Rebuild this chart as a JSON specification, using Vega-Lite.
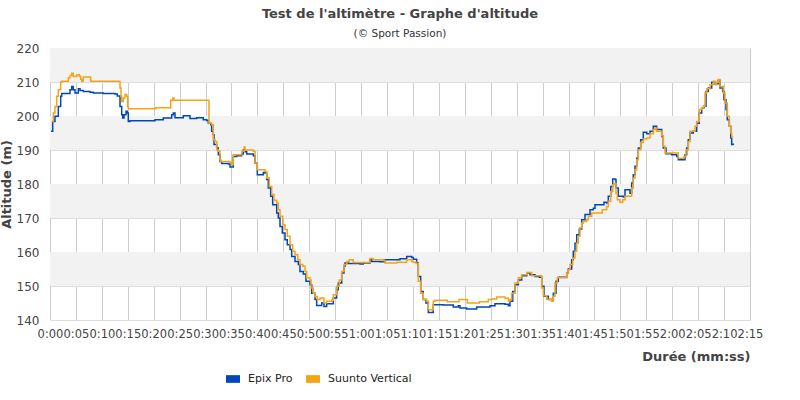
{
  "$schema": "https://vega.github.io/schema/vega-lite/v6.json",
  "width": 700,
  "height": 272,
  "autosize": {"type": "none"},
  "padding": {"left": 50, "top": 48, "right": 50, "bottom": 80},
  "background": "white",
  "config": {
    "view": {"stroke": null},
    "font": "DejaVu Sans",
    "axisY": {
      "title": "Altitude (m)",
      "titleFontSize": 13,
      "titleFontWeight": "bold",
      "titleColor": "#444444",
      "titlePadding": 3,
      "values": [140,150,160,170,180,190,200,210,220],
      "labelOverlap": false,
      "labelFontSize": 12,
      "labelColor": "#444444",
      "labelPadding": 11,
      "ticks": false,
      "domain": false,
      "grid": true,
      "gridColor": "#dddddd",
      "gridWidth": 1
    }
  },
  "title": {
    "text": "Test de l'altimètre - Graphe d'altitude",
    "subtitle": "(© Sport Passion)",
    "anchor": "middle",
    "fontSize": 13,
    "fontWeight": "bold",
    "color": "#444444",
    "subtitleFontSize": 10.5,
    "subtitleColor": "#333333",
    "subtitlePadding": 8,
    "offset": 3
  },
  "layer": [
    {
      "data": {"values": [
        {"y1": 210, "y2": 220}, {"y1": 190, "y2": 200}, {"y1": 170, "y2": 180}, {"y1": 150, "y2": 160}
      ]},
      "mark": {"type": "rect", "color": "#f2f2f2"},
      "encoding": {
        "y": {"field": "y1", "type": "quantitative", "title": "Altitude (m)", "scale": {"domain": [140, 220], "nice": false, "zero": false},
          "axis": {"title": "Altitude (m)", "values": [140,150,160,170,180,190,200,210,220]}},
        "y2": {"field": "y2"}
      }
    },
    {
      "data": {"values": [
        {"s":"Epix Pro","t":0.19,"a":195.5},{"s":"Epix Pro","t":0.52,"a":198.4},{"s":"Epix Pro","t":0.96,"a":199.9},{"s":"Epix Pro","t":1.6,"a":202.8},{"s":"Epix Pro","t":2.06,"a":205.8},{"s":"Epix Pro","t":2.26,"a":206.6},{"s":"Epix Pro","t":3.72,"a":206.6},{"s":"Epix Pro","t":3.86,"a":207.7},{"s":"Epix Pro","t":4.19,"a":208.7},{"s":"Epix Pro","t":4.49,"a":207.7},{"s":"Epix Pro","t":4.82,"a":206.8},{"s":"Epix Pro","t":5.46,"a":208},{"s":"Epix Pro","t":5.79,"a":207.5},{"s":"Epix Pro","t":6.42,"a":207.2},{"s":"Epix Pro","t":7.71,"a":207},{"s":"Epix Pro","t":8.35,"a":206.8},{"s":"Epix Pro","t":10.28,"a":206.6},{"s":"Epix Pro","t":12.54,"a":206.5},{"s":"Epix Pro","t":12.98,"a":205.9},{"s":"Epix Pro","t":13.5,"a":202.8},{"s":"Epix Pro","t":13.83,"a":200.4},{"s":"Epix Pro","t":14.02,"a":199.4},{"s":"Epix Pro","t":14.27,"a":200.4},{"s":"Epix Pro","t":14.66,"a":201.4},{"s":"Epix Pro","t":14.91,"a":200.9},{"s":"Epix Pro","t":15.1,"a":198.4},{"s":"Epix Pro","t":15.43,"a":198.6},{"s":"Epix Pro","t":20.25,"a":198.9},{"s":"Epix Pro","t":21.85,"a":199.4},{"s":"Epix Pro","t":23.47,"a":200.4},{"s":"Epix Pro","t":23.78,"a":200.9},{"s":"Epix Pro","t":24.11,"a":199.5},{"s":"Epix Pro","t":25.71,"a":200.1},{"s":"Epix Pro","t":27.0,"a":199.3},{"s":"Epix Pro","t":28.29,"a":199.5},{"s":"Epix Pro","t":29.56,"a":198.9},{"s":"Epix Pro","t":30.22,"a":198.7},{"s":"Epix Pro","t":30.53,"a":197.9},{"s":"Epix Pro","t":30.99,"a":197.4},{"s":"Epix Pro","t":31.18,"a":195.5},{"s":"Epix Pro","t":31.49,"a":194.5},{"s":"Epix Pro","t":31.63,"a":191.6},{"s":"Epix Pro","t":32.15,"a":190.6},{"s":"Epix Pro","t":32.46,"a":188.6},{"s":"Epix Pro","t":32.79,"a":186.6},{"s":"Epix Pro","t":33.11,"a":186},{"s":"Epix Pro","t":34.39,"a":185.9},{"s":"Epix Pro","t":34.71,"a":185},{"s":"Epix Pro","t":35.04,"a":185},{"s":"Epix Pro","t":35.35,"a":188.1},{"s":"Epix Pro","t":36.0,"a":188.3},{"s":"Epix Pro","t":36.64,"a":188.3},{"s":"Epix Pro","t":36.97,"a":188.8},{"s":"Epix Pro","t":37.28,"a":190.1},{"s":"Epix Pro","t":37.61,"a":189.5},{"s":"Epix Pro","t":37.94,"a":188.8},{"s":"Epix Pro","t":39.21,"a":188.3},{"s":"Epix Pro","t":39.54,"a":186.2},{"s":"Epix Pro","t":39.98,"a":182.7},{"s":"Epix Pro","t":41.14,"a":183.4},{"s":"Epix Pro","t":41.46,"a":183.2},{"s":"Epix Pro","t":41.79,"a":181.3},{"s":"Epix Pro","t":42.1,"a":178.8},{"s":"Epix Pro","t":42.56,"a":176.4},{"s":"Epix Pro","t":42.95,"a":173.9},{"s":"Epix Pro","t":43.72,"a":171.5},{"s":"Epix Pro","t":44.03,"a":170},{"s":"Epix Pro","t":44.36,"a":167.5},{"s":"Epix Pro","t":44.8,"a":165.6},{"s":"Epix Pro","t":45.32,"a":163.6},{"s":"Epix Pro","t":45.76,"a":162.1},{"s":"Epix Pro","t":46.29,"a":160.7},{"s":"Epix Pro","t":46.61,"a":158.7},{"s":"Epix Pro","t":47.25,"a":157.2},{"s":"Epix Pro","t":47.89,"a":156.3},{"s":"Epix Pro","t":48.21,"a":154.3},{"s":"Epix Pro","t":48.85,"a":153.5},{"s":"Epix Pro","t":49.37,"a":151.4},{"s":"Epix Pro","t":50.14,"a":150.4},{"s":"Epix Pro","t":50.47,"a":147.9},{"s":"Epix Pro","t":51.11,"a":146},{"s":"Epix Pro","t":51.43,"a":144.3},{"s":"Epix Pro","t":52.07,"a":144.3},{"s":"Epix Pro","t":52.4,"a":145},{"s":"Epix Pro","t":52.84,"a":144},{"s":"Epix Pro","t":53.36,"a":144.8},{"s":"Epix Pro","t":54.33,"a":144.8},{"s":"Epix Pro","t":54.64,"a":146.5},{"s":"Epix Pro","t":55.29,"a":148.9},{"s":"Epix Pro","t":55.6,"a":150.9},{"s":"Epix Pro","t":56.26,"a":153.8},{"s":"Epix Pro","t":56.7,"a":155.8},{"s":"Epix Pro","t":56.89,"a":156.8},{"s":"Epix Pro","t":57.53,"a":156.6},{"s":"Epix Pro","t":59.79,"a":156.5},{"s":"Epix Pro","t":60.42,"a":156.8},{"s":"Epix Pro","t":61.71,"a":157.7},{"s":"Epix Pro","t":62.04,"a":157.2},{"s":"Epix Pro","t":63.64,"a":157.1},{"s":"Epix Pro","t":64.61,"a":157.7},{"s":"Epix Pro","t":67.5,"a":158},{"s":"Epix Pro","t":68.79,"a":158.7},{"s":"Epix Pro","t":69.76,"a":158.4},{"s":"Epix Pro","t":70.07,"a":157.9},{"s":"Epix Pro","t":70.72,"a":156.8},{"s":"Epix Pro","t":71.03,"a":152.8},{"s":"Epix Pro","t":71.49,"a":148.4},{"s":"Epix Pro","t":71.99,"a":146},{"s":"Epix Pro","t":72.51,"a":145},{"s":"Epix Pro","t":72.96,"a":142.2},{"s":"Epix Pro","t":73.81,"a":142.2},{"s":"Epix Pro","t":73.92,"a":144.5},{"s":"Epix Pro","t":74.58,"a":144.5},{"s":"Epix Pro","t":75.85,"a":144.4},{"s":"Epix Pro","t":77.78,"a":143.8},{"s":"Epix Pro","t":78.74,"a":144.2},{"s":"Epix Pro","t":79.07,"a":143.5},{"s":"Epix Pro","t":80.36,"a":143.2},{"s":"Epix Pro","t":81.33,"a":143.2},{"s":"Epix Pro","t":82.29,"a":143.8},{"s":"Epix Pro","t":84.22,"a":143.8},{"s":"Epix Pro","t":84.86,"a":144.2},{"s":"Epix Pro","t":85.82,"a":144.8},{"s":"Epix Pro","t":87.75,"a":144.6},{"s":"Epix Pro","t":88.39,"a":144.2},{"s":"Epix Pro","t":88.71,"a":145.5},{"s":"Epix Pro","t":89.24,"a":148.4},{"s":"Epix Pro","t":89.68,"a":150.4},{"s":"Epix Pro","t":90.32,"a":151.8},{"s":"Epix Pro","t":90.97,"a":153},{"s":"Epix Pro","t":91.94,"a":153.8},{"s":"Epix Pro","t":92.57,"a":153.3},{"s":"Epix Pro","t":93.54,"a":152.8},{"s":"Epix Pro","t":94.37,"a":152.6},{"s":"Epix Pro","t":94.83,"a":149.9},{"s":"Epix Pro","t":95.27,"a":147},{"s":"Epix Pro","t":96.1,"a":146},{"s":"Epix Pro","t":96.76,"a":145.5},{"s":"Epix Pro","t":97.07,"a":147.9},{"s":"Epix Pro","t":97.59,"a":151.4},{"s":"Epix Pro","t":98.03,"a":152.6},{"s":"Epix Pro","t":99.32,"a":152.6},{"s":"Epix Pro","t":99.65,"a":153.8},{"s":"Epix Pro","t":99.96,"a":155},{"s":"Epix Pro","t":100.61,"a":157.7},{"s":"Epix Pro","t":100.92,"a":160.2},{"s":"Epix Pro","t":101.25,"a":162.6},{"s":"Epix Pro","t":101.58,"a":165.1},{"s":"Epix Pro","t":102.08,"a":166.8},{"s":"Epix Pro","t":102.54,"a":169.5},{"s":"Epix Pro","t":103.18,"a":171},{"s":"Epix Pro","t":104.14,"a":172.4},{"s":"Epix Pro","t":104.78,"a":172.9},{"s":"Epix Pro","t":105.11,"a":173.9},{"s":"Epix Pro","t":106.71,"a":173.9},{"s":"Epix Pro","t":106.84,"a":174.6},{"s":"Epix Pro","t":107.36,"a":174.4},{"s":"Epix Pro","t":107.67,"a":176.4},{"s":"Epix Pro","t":108.14,"a":179.3},{"s":"Epix Pro","t":108.52,"a":181.5},{"s":"Epix Pro","t":108.97,"a":181.3},{"s":"Epix Pro","t":109.16,"a":178.8},{"s":"Epix Pro","t":109.6,"a":176.4},{"s":"Epix Pro","t":110.57,"a":176.2},{"s":"Epix Pro","t":110.89,"a":178.3},{"s":"Epix Pro","t":111.53,"a":178.3},{"s":"Epix Pro","t":111.86,"a":177.3},{"s":"Epix Pro","t":112.18,"a":180.3},{"s":"Epix Pro","t":112.49,"a":182.7},{"s":"Epix Pro","t":112.82,"a":185.2},{"s":"Epix Pro","t":113.15,"a":187.6},{"s":"Epix Pro","t":113.46,"a":190.6},{"s":"Epix Pro","t":113.92,"a":193},{"s":"Epix Pro","t":114.42,"a":195.2},{"s":"Epix Pro","t":115.08,"a":194.8},{"s":"Epix Pro","t":115.71,"a":195.5},{"s":"Epix Pro","t":116.35,"a":197},{"s":"Epix Pro","t":117.0,"a":196},{"s":"Epix Pro","t":117.97,"a":194},{"s":"Epix Pro","t":118.28,"a":190.6},{"s":"Epix Pro","t":118.8,"a":188.9},{"s":"Epix Pro","t":119.9,"a":188.6},{"s":"Epix Pro","t":120.87,"a":188.1},{"s":"Epix Pro","t":121.17,"a":187.1},{"s":"Epix Pro","t":122.14,"a":187.1},{"s":"Epix Pro","t":122.46,"a":188.6},{"s":"Epix Pro","t":122.79,"a":190.6},{"s":"Epix Pro","t":123.1,"a":193},{"s":"Epix Pro","t":123.43,"a":195},{"s":"Epix Pro","t":124.06,"a":195.5},{"s":"Epix Pro","t":124.72,"a":197.9},{"s":"Epix Pro","t":125.22,"a":200.9},{"s":"Epix Pro","t":125.68,"a":202.4},{"s":"Epix Pro","t":126.13,"a":202.9},{"s":"Epix Pro","t":126.52,"a":207.2},{"s":"Epix Pro","t":126.96,"a":208.2},{"s":"Epix Pro","t":127.61,"a":209.9},{"s":"Epix Pro","t":128.25,"a":209.5},{"s":"Epix Pro","t":128.88,"a":210.5},{"s":"Epix Pro","t":129.21,"a":208.2},{"s":"Epix Pro","t":129.73,"a":207.2},{"s":"Epix Pro","t":129.98,"a":204.8},{"s":"Epix Pro","t":130.37,"a":201.9},{"s":"Epix Pro","t":130.62,"a":198.9},{"s":"Epix Pro","t":131.01,"a":197},{"s":"Epix Pro","t":131.28,"a":193.5},{"s":"Epix Pro","t":131.47,"a":191.6},{"s":"Epix Pro","t":131.78,"a":191.9},
        {"s":"Suunto Vertical","t":0.33,"a":198.4},{"s":"Suunto Vertical","t":0.64,"a":200.9},{"s":"Suunto Vertical","t":0.96,"a":202.8},{"s":"Suunto Vertical","t":1.29,"a":205.8},{"s":"Suunto Vertical","t":1.6,"a":207.7},{"s":"Suunto Vertical","t":2.06,"a":209.9},{"s":"Suunto Vertical","t":2.26,"a":210.2},{"s":"Suunto Vertical","t":3.22,"a":210.2},{"s":"Suunto Vertical","t":3.53,"a":211.2},{"s":"Suunto Vertical","t":3.86,"a":211.9},{"s":"Suunto Vertical","t":4.19,"a":212.6},{"s":"Suunto Vertical","t":4.49,"a":211.6},{"s":"Suunto Vertical","t":5.15,"a":212.1},{"s":"Suunto Vertical","t":5.65,"a":211.7},{"s":"Suunto Vertical","t":5.92,"a":210.8},{"s":"Suunto Vertical","t":6.11,"a":210.2},{"s":"Suunto Vertical","t":6.42,"a":211.5},{"s":"Suunto Vertical","t":7.71,"a":211.5},{"s":"Suunto Vertical","t":7.85,"a":210.2},{"s":"Suunto Vertical","t":13.31,"a":210.2},{"s":"Suunto Vertical","t":13.5,"a":208.2},{"s":"Suunto Vertical","t":13.69,"a":205.8},{"s":"Suunto Vertical","t":13.83,"a":204.3},{"s":"Suunto Vertical","t":14.14,"a":205.3},{"s":"Suunto Vertical","t":14.46,"a":206.3},{"s":"Suunto Vertical","t":14.79,"a":205.8},{"s":"Suunto Vertical","t":14.98,"a":202.8},{"s":"Suunto Vertical","t":15.1,"a":202.1},{"s":"Suunto Vertical","t":20.25,"a":202.1},{"s":"Suunto Vertical","t":20.39,"a":202.4},{"s":"Suunto Vertical","t":23.14,"a":202.4},{"s":"Suunto Vertical","t":23.28,"a":204.6},{"s":"Suunto Vertical","t":23.66,"a":205.3},{"s":"Suunto Vertical","t":23.91,"a":204.6},{"s":"Suunto Vertical","t":30.53,"a":204.6},{"s":"Suunto Vertical","t":30.66,"a":197.9},{"s":"Suunto Vertical","t":31.18,"a":197.4},{"s":"Suunto Vertical","t":31.49,"a":193},{"s":"Suunto Vertical","t":31.82,"a":192.5},{"s":"Suunto Vertical","t":32.15,"a":190.1},{"s":"Suunto Vertical","t":32.46,"a":189.6},{"s":"Suunto Vertical","t":32.79,"a":187.1},{"s":"Suunto Vertical","t":32.92,"a":186.6},{"s":"Suunto Vertical","t":34.71,"a":186.4},{"s":"Suunto Vertical","t":35.04,"a":185.7},{"s":"Suunto Vertical","t":35.35,"a":188.6},{"s":"Suunto Vertical","t":36.64,"a":188.6},{"s":"Suunto Vertical","t":36.97,"a":189.6},{"s":"Suunto Vertical","t":37.42,"a":190.9},{"s":"Suunto Vertical","t":37.61,"a":190},{"s":"Suunto Vertical","t":39.21,"a":189.6},{"s":"Suunto Vertical","t":39.54,"a":186.2},{"s":"Suunto Vertical","t":39.98,"a":184.2},{"s":"Suunto Vertical","t":41.14,"a":184.2},{"s":"Suunto Vertical","t":41.46,"a":183.7},{"s":"Suunto Vertical","t":41.79,"a":181.8},{"s":"Suunto Vertical","t":42.29,"a":179.3},{"s":"Suunto Vertical","t":42.76,"a":176.9},{"s":"Suunto Vertical","t":43.2,"a":175.2},{"s":"Suunto Vertical","t":43.72,"a":174.4},{"s":"Suunto Vertical","t":44.03,"a":172.4},{"s":"Suunto Vertical","t":44.36,"a":170.5},{"s":"Suunto Vertical","t":44.88,"a":168},{"s":"Suunto Vertical","t":45.32,"a":166.6},{"s":"Suunto Vertical","t":45.76,"a":164.6},{"s":"Suunto Vertical","t":46.29,"a":162.1},{"s":"Suunto Vertical","t":46.81,"a":160.2},{"s":"Suunto Vertical","t":47.25,"a":159.2},{"s":"Suunto Vertical","t":47.77,"a":157.7},{"s":"Suunto Vertical","t":48.21,"a":156.3},{"s":"Suunto Vertical","t":48.74,"a":155.8},{"s":"Suunto Vertical","t":49.18,"a":154.3},{"s":"Suunto Vertical","t":49.51,"a":152.4},{"s":"Suunto Vertical","t":50.14,"a":151.8},{"s":"Suunto Vertical","t":50.34,"a":149.4},{"s":"Suunto Vertical","t":50.78,"a":147.9},{"s":"Suunto Vertical","t":51.11,"a":146.9},{"s":"Suunto Vertical","t":51.55,"a":146},{"s":"Suunto Vertical","t":52.07,"a":146.5},{"s":"Suunto Vertical","t":52.59,"a":146.5},{"s":"Suunto Vertical","t":52.84,"a":145},{"s":"Suunto Vertical","t":53.36,"a":145.5},{"s":"Suunto Vertical","t":54.33,"a":145.8},{"s":"Suunto Vertical","t":54.64,"a":147.4},{"s":"Suunto Vertical","t":55.29,"a":149.9},{"s":"Suunto Vertical","t":55.79,"a":151.8},{"s":"Suunto Vertical","t":56.26,"a":154.3},{"s":"Suunto Vertical","t":56.7,"a":156.3},{"s":"Suunto Vertical","t":57.22,"a":157.2},{"s":"Suunto Vertical","t":57.72,"a":157.7},{"s":"Suunto Vertical","t":58.49,"a":156.9},{"s":"Suunto Vertical","t":61.08,"a":156.9},{"s":"Suunto Vertical","t":61.71,"a":158.1},{"s":"Suunto Vertical","t":62.35,"a":157.7},{"s":"Suunto Vertical","t":64.28,"a":157.5},{"s":"Suunto Vertical","t":64.61,"a":156.8},{"s":"Suunto Vertical","t":66.86,"a":157.0},{"s":"Suunto Vertical","t":68.79,"a":157.7},{"s":"Suunto Vertical","t":69.76,"a":157.2},{"s":"Suunto Vertical","t":70.07,"a":157},{"s":"Suunto Vertical","t":70.59,"a":156.6},{"s":"Suunto Vertical","t":71.03,"a":151.4},{"s":"Suunto Vertical","t":71.49,"a":147.9},{"s":"Suunto Vertical","t":71.99,"a":146},{"s":"Suunto Vertical","t":72.65,"a":145.5},{"s":"Suunto Vertical","t":72.96,"a":143},{"s":"Suunto Vertical","t":73.73,"a":143},{"s":"Suunto Vertical","t":73.92,"a":145.5},{"s":"Suunto Vertical","t":74.25,"a":145.8},{"s":"Suunto Vertical","t":76.51,"a":145.8},{"s":"Suunto Vertical","t":76.62,"a":145.4},{"s":"Suunto Vertical","t":78.74,"a":145.4},{"s":"Suunto Vertical","t":78.88,"a":146},{"s":"Suunto Vertical","t":80.36,"a":146},{"s":"Suunto Vertical","t":80.48,"a":145},{"s":"Suunto Vertical","t":82.6,"a":145},{"s":"Suunto Vertical","t":82.79,"a":145.4},{"s":"Suunto Vertical","t":84.22,"a":145.4},{"s":"Suunto Vertical","t":84.53,"a":146},{"s":"Suunto Vertical","t":85.18,"a":146.2},{"s":"Suunto Vertical","t":86.15,"a":146.8},{"s":"Suunto Vertical","t":87.75,"a":146.4},{"s":"Suunto Vertical","t":88.39,"a":145.6},{"s":"Suunto Vertical","t":88.71,"a":146},{"s":"Suunto Vertical","t":89.04,"a":147.9},{"s":"Suunto Vertical","t":89.68,"a":150.9},{"s":"Suunto Vertical","t":90.32,"a":152.4},{"s":"Suunto Vertical","t":90.97,"a":153.3},{"s":"Suunto Vertical","t":91.94,"a":154},{"s":"Suunto Vertical","t":92.9,"a":153},{"s":"Suunto Vertical","t":94.37,"a":153},{"s":"Suunto Vertical","t":94.83,"a":149.4},{"s":"Suunto Vertical","t":95.14,"a":147.1},{"s":"Suunto Vertical","t":95.79,"a":146.1},{"s":"Suunto Vertical","t":96.76,"a":145.5},{"s":"Suunto Vertical","t":97.07,"a":147},{"s":"Suunto Vertical","t":97.39,"a":150.9},{"s":"Suunto Vertical","t":97.84,"a":152.4},{"s":"Suunto Vertical","t":99.32,"a":152.4},{"s":"Suunto Vertical","t":99.65,"a":153.8},{"s":"Suunto Vertical","t":99.96,"a":154.8},{"s":"Suunto Vertical","t":100.29,"a":156.3},{"s":"Suunto Vertical","t":100.81,"a":158.2},{"s":"Suunto Vertical","t":101.25,"a":160.2},{"s":"Suunto Vertical","t":101.58,"a":162.6},{"s":"Suunto Vertical","t":101.89,"a":164.6},{"s":"Suunto Vertical","t":102.21,"a":167.1},{"s":"Suunto Vertical","t":102.54,"a":168.5},{"s":"Suunto Vertical","t":102.86,"a":169},{"s":"Suunto Vertical","t":103.51,"a":169.5},{"s":"Suunto Vertical","t":103.82,"a":170.5},{"s":"Suunto Vertical","t":104.47,"a":171.5},{"s":"Suunto Vertical","t":106.4,"a":171.5},{"s":"Suunto Vertical","t":106.51,"a":172.4},{"s":"Suunto Vertical","t":107.23,"a":172.4},{"s":"Suunto Vertical","t":107.36,"a":173.4},{"s":"Suunto Vertical","t":107.67,"a":174.9},{"s":"Suunto Vertical","t":108.14,"a":177.8},{"s":"Suunto Vertical","t":108.52,"a":179.8},{"s":"Suunto Vertical","t":108.77,"a":180.1},{"s":"Suunto Vertical","t":109.16,"a":177.3},{"s":"Suunto Vertical","t":109.41,"a":175.4},{"s":"Suunto Vertical","t":109.93,"a":174.6},{"s":"Suunto Vertical","t":110.45,"a":175.4},{"s":"Suunto Vertical","t":110.89,"a":176.4},{"s":"Suunto Vertical","t":111.86,"a":176.4},{"s":"Suunto Vertical","t":112.18,"a":178.8},{"s":"Suunto Vertical","t":112.49,"a":181.8},{"s":"Suunto Vertical","t":112.82,"a":184.2},{"s":"Suunto Vertical","t":113.15,"a":187.1},{"s":"Suunto Vertical","t":113.46,"a":190.1},{"s":"Suunto Vertical","t":113.92,"a":192.2},{"s":"Suunto Vertical","t":114.42,"a":193.2},{"s":"Suunto Vertical","t":115.08,"a":193.5},{"s":"Suunto Vertical","t":115.71,"a":194.8},{"s":"Suunto Vertical","t":116.35,"a":196},{"s":"Suunto Vertical","t":116.68,"a":196.5},{"s":"Suunto Vertical","t":117.0,"a":195.5},{"s":"Suunto Vertical","t":117.97,"a":194.2},{"s":"Suunto Vertical","t":118.28,"a":191.1},{"s":"Suunto Vertical","t":118.61,"a":189.1},{"s":"Suunto Vertical","t":120.98,"a":189.1},{"s":"Suunto Vertical","t":121.17,"a":187.6},{"s":"Suunto Vertical","t":122.02,"a":187.6},{"s":"Suunto Vertical","t":122.27,"a":188.1},{"s":"Suunto Vertical","t":122.66,"a":190.1},{"s":"Suunto Vertical","t":123.1,"a":192.5},{"s":"Suunto Vertical","t":123.43,"a":195.5},{"s":"Suunto Vertical","t":124.06,"a":195.5},{"s":"Suunto Vertical","t":124.39,"a":197},{"s":"Suunto Vertical","t":124.72,"a":198.4},{"s":"Suunto Vertical","t":125.22,"a":201.9},{"s":"Suunto Vertical","t":125.68,"a":202.4},{"s":"Suunto Vertical","t":125.99,"a":202.9},{"s":"Suunto Vertical","t":126.32,"a":206.8},{"s":"Suunto Vertical","t":126.65,"a":208},{"s":"Suunto Vertical","t":127.29,"a":209.2},{"s":"Suunto Vertical","t":127.92,"a":210.2},{"s":"Suunto Vertical","t":128.25,"a":209.2},{"s":"Suunto Vertical","t":128.58,"a":209.9},{"s":"Suunto Vertical","t":128.88,"a":210.7},{"s":"Suunto Vertical","t":129.21,"a":208.7},{"s":"Suunto Vertical","t":129.85,"a":206.8},{"s":"Suunto Vertical","t":130.18,"a":203.8},{"s":"Suunto Vertical","t":130.62,"a":199.9},{"s":"Suunto Vertical","t":131.01,"a":197},{"s":"Suunto Vertical","t":131.28,"a":195},{"s":"Suunto Vertical","t":131.47,"a":193.8},{"s":"Suunto Vertical","t":131.78,"a":193.8}
      ]},
      "mark": {"type": "line", "interpolate": "step-after", "strokeWidth": 1.5},
      "encoding": {
        "x": {
          "field": "t", "type": "quantitative",
          "scale": {"domain": [0, 135], "nice": false, "zero": false},
          "axis": {
            "title": "Durée (mm:ss)",
            "titleAnchor": "end",
            "titleAlign": "right",
            "titleFontSize": 13,
            "titleFontWeight": "bold",
            "titleColor": "#444444",
            "titlePadding": 11,
            "values": [0,5,10,15,20,25,30,35,40,45,50,55,60,65,70,75,80,85,90,95,100,105,110,115,120,125,130,135],
            "labelExpr": "floor(datum.value/60) + ':' + (datum.value % 60 < 10 ? '0' : '') + (datum.value % 60)",
            "labelOverlap": false,
            "labelFlush": false,
            "labelFontSize": 11.5,
            "labelColor": "#444444",
            "labelPadding": 8,
            "ticks": false,
            "domain": false,
            "grid": true,
            "gridColor": "#cccccc",
            "gridWidth": 1
          }
        },
        "y": {
          "field": "a", "type": "quantitative", "title": "Altitude (m)",
          "scale": {"domain": [140, 220], "nice": false, "zero": false},
          "axis": {"title": "Altitude (m)", "values": [140,150,160,170,180,190,200,210,220]}
        },
        "color": {
          "field": "s", "type": "nominal",
          "scale": {"domain": ["Epix Pro", "Suunto Vertical"], "range": ["#0047BB", "#F5A316"]},
          "legend": {
            "title": null,
            "orient": "none",
            "legendX": 176,
            "legendY": 324,
            "direction": "horizontal",
            "symbolType": "M-1,-0.55H1V0.55H-1Z",
            "symbolSize": 196,
            "symbolStrokeWidth": 0,
            "labelFontSize": 11,
            "labelColor": "#222222",
            "labelOffset": 8,
            "columnPadding": 13,
            "encode": {
              "symbols": {
                "update": {
                  "fill": {"scale": "color", "field": "value"},
                  "fillOpacity": {"value": 1},
                  "strokeWidth": {"value": 0}
                }
              }
            }
          }
        }
      }
    }
  ]
}
